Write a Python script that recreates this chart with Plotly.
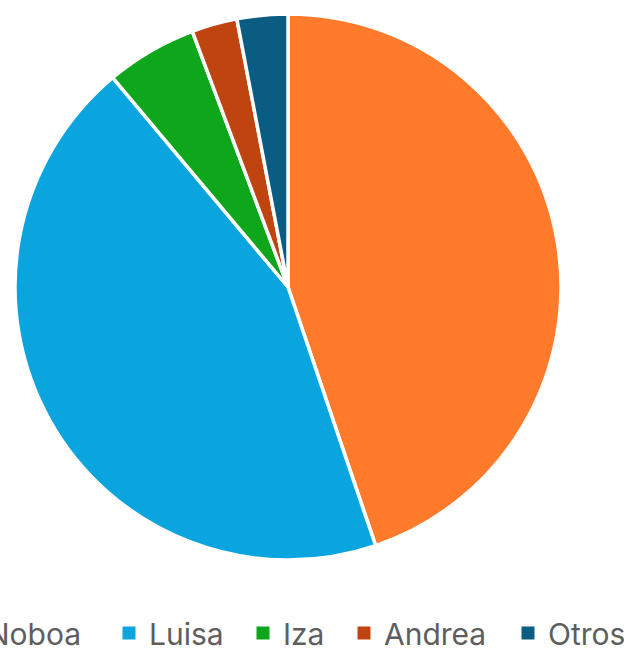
import plotly.graph_objects as go

labels = ["Noboa", "Luisa", "Iza", "Andrea", "Otros"]
values = [44.8, 44.1, 5.4, 2.7, 3.0]
colors = ["#FF7A2B", "#0AA5DE", "#0EA61A", "#C0440F", "#0A5C83"]

W, H = 633, 650
# legend text start positions (px from left) for each entry
legend_text_x = [-13, 149, 283, 384, 548]
legend_names = ["legend", "legend2", "legend3", "legend4", "legend5"]

fig = go.Figure()
fig.add_trace(go.Pie(
    labels=labels,
    values=values,
    sort=False,
    direction="clockwise",
    rotation=0,
    textinfo="none",
    hoverinfo="label+percent",
    showlegend=False,
    marker=dict(colors=colors, line=dict(color="white", width=3.5)),
    domain=dict(x=[15 / W, 561 / W], y=[90 / H, 636 / H]),
))

for lab, col, lg in zip(labels, colors, legend_names):
    fig.add_trace(go.Scatter(
        x=[None], y=[None], mode="markers", name=lab,
        marker=dict(symbol="square", size=13, color=col),
        legend=lg, showlegend=True, hoverinfo="skip",
    ))

layout_legends = {}
for lg, tx in zip(legend_names, legend_text_x):
    layout_legends[lg] = dict(
        orientation="h",
        x=(tx - 40) / W, xanchor="left",
        y=17 / H, yanchor="middle",
        font=dict(family="Inter", size=30, color="#5E5E5E"),
        bgcolor="rgba(0,0,0,0)",
        itemclick=False, itemdoubleclick=False,
    )

fig.update_layout(
    width=W, height=H,
    margin=dict(l=0, r=0, t=0, b=0, autoexpand=False),
    paper_bgcolor="white",
    plot_bgcolor="white",
    xaxis=dict(visible=False),
    yaxis=dict(visible=False),
    **layout_legends,
)

fig.write_html(
    "out.html",
    config={"displayModeBar": False},
    post_script="document.body.style.margin='0px';",
)
